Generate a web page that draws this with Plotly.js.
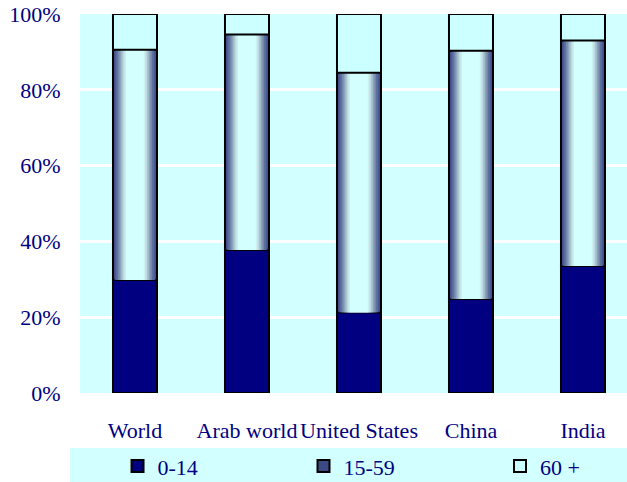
<!DOCTYPE html>
<html>
<head>
<meta charset="utf-8">
<script src="https://cdn.plot.ly/plotly-3.0.1.min.js"></script>
<style>
html, body { margin: 0; padding: 0; background: #ffffff; overflow: hidden; }
#chart { width: 627px; height: 482px; }
</style>
</head>
<body>
<div id="chart"></div>
<script>
// ---- data (percent of population) ----
var categories = ["World", "Arab world", "United States", "China", "India"];
var age0to14   = [29.8, 37.7, 21.3, 24.8, 33.5];
var age15to59  = [60.8, 56.9, 63.2, 65.5, 59.5];
var age60plus  = [9.4, 5.4, 15.5, 9.7, 7.0];
var seriesNames = ["0-14", "15-59", "60 +"];
var yTickVals = [0, 20, 40, 60, 80, 100];
var yTickText = yTickVals.map(function (v) { return v + "%"; });

// ---- styles ----
var navy = "#000080";
var light = "#ccffff";
var fontFam = "'Liberation Serif', 'Times New Roman', serif";
var fs = 22;
var barW = 0.393;
var gradColors = ["#3c4a84", "#4c5c92", "#5e70a0", "#7488ae", "#8ca4bc", "#a6c2cc", "#bcdce2", "#ccf0f2", "#d4ffff"];

var base15 = age0to14.slice();
var base60 = age0to14.map(function (v, i) { return v + age15to59[i]; });

var traces = [];
traces.push({
  type: "bar", x: categories, y: age0to14, base: 0, name: seriesNames[0],
  width: barW, legend: "legend",
  marker: { color: navy, line: { color: "#000000", width: 2 } },
  hoverinfo: "skip"
});
gradColors.forEach(function (c, i) {
  traces.push({
    type: "bar", x: categories, y: age15to59, base: base15, name: seriesNames[1],
    width: barW * (1 - i * 0.075),
    showlegend: i === 0, legend: "legend2",
    marker: { color: c, line: { color: i === 0 ? "#000000" : c, width: i === 0 ? 2 : 0 } },
    hoverinfo: "skip"
  });
});
traces.push({
  type: "bar", x: categories, y: age60plus, base: base60, name: seriesNames[2],
  width: barW, legend: "legend3",
  marker: { color: light, line: { color: "#000000", width: 2 } },
  hoverinfo: "skip"
});

function legendAt(xp) {
  return {
    orientation: "h",
    x: xp, xanchor: "left",
    y: -0.193, yanchor: "middle",
    bgcolor: "rgba(0,0,0,0)",
    font: { family: fontFam, size: fs, color: navy }
  };
}

var layout = {
  width: 627, height: 482,
  margin: { l: 80, r: 0, t: 14, b: 89, pad: 0, autoexpand: false },
  paper_bgcolor: "#ffffff",
  plot_bgcolor: "#d2ffff",
  barmode: "overlay",
  showlegend: true,
  font: { family: fontFam, size: fs, color: navy },
  xaxis: {
    type: "category",
    range: [-0.491, 4.393],
    showgrid: false, zeroline: false, showline: false,
    ticks: "outside", ticklen: 18, tickcolor: "rgba(0,0,0,0)",
    tickfont: { family: fontFam, size: fs, color: navy },
    automargin: false,
    fixedrange: true
  },
  yaxis: {
    range: [0, 100],
    tickmode: "array",
    tickvals: yTickVals,
    ticktext: yTickText,
    showgrid: true, gridcolor: "#ffffff", gridwidth: 3,
    zeroline: false, showline: false,
    ticks: "outside", ticklen: 14, tickcolor: "rgba(0,0,0,0)",
    tickfont: { family: fontFam, size: fs, color: navy },
    automargin: false,
    fixedrange: true
  },
  legend: legendAt(0.0686),
  legend2: legendAt(0.4086),
  legend3: legendAt(0.7678),
  shapes: [{
    type: "rect", xref: "paper", yref: "paper",
    x0: -0.0183, x1: 1.0, y0: -0.1453, y1: -0.236,
    fillcolor: "#d2ffff", line: { width: 0 }, layer: "below"
  }]
};

Plotly.newPlot("chart", traces, layout, { displayModeBar: false, staticPlot: true });
</script>
</body>
</html>
